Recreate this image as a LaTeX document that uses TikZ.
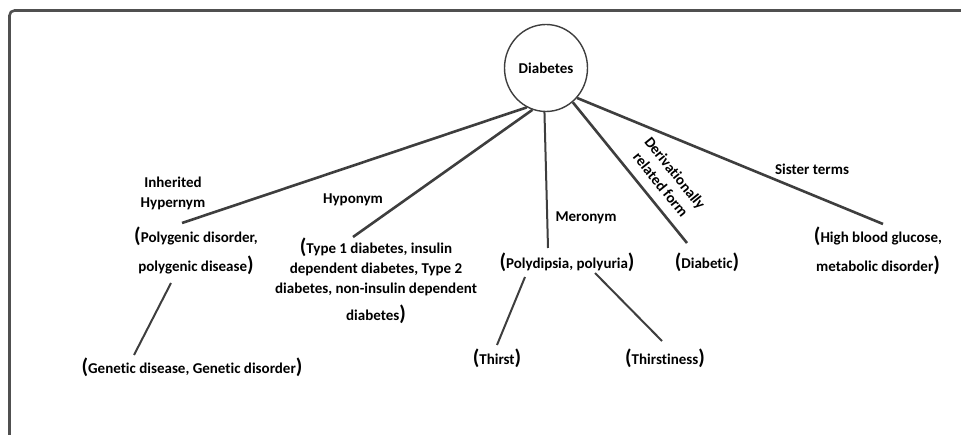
\documentclass[tikz,border=0pt]{standalone}
\usepackage{fontspec}
\setmainfont{Carlito}[Ligatures=NoCommon]
\usetikzlibrary{shapes.geometric,calc}
\definecolor{linegray}{HTML}{3E3E3E}
\definecolor{framegray}{HTML}{505050}
% large parentheses around each group of terms
\newcommand\bigparen[1]{{\fontsize{21}{21}\selectfont #1}}
\begin{document}
\begin{tikzpicture}[x=1pt,y=-1pt,
  every node/.style={font=\fontsize{15}{20}\selectfont\bfseries, inner sep=0pt, text=black},
  term/.style={align=center},
  lbl/.style={align=center},
  rel/.style={draw=linegray, line width=2.6pt},
  thinrel/.style={draw=linegray, line width=2pt},
  frame/.style={draw=framegray, line width=2.6pt, rounded corners=5pt}]
\useasboundingbox (0,0) rectangle (961,435);
\clip (0,0) rectangle (961,435);
% page frame (open to the right and bottom)
\draw[frame] (9.5,450) -- (9.5,10.5) -- (980,10.5);

% root concept
\node[draw=linegray, line width=1.4pt, ellipse, minimum width=83pt, minimum height=87pt] (d) at (546,68) {Diabetes};

% related term groups
\node[term] (hyper) at (196,250.5) {\bigparen(Polygenic disorder,\\[9pt] polygenic disease\bigparen)};
\node[term] (hypo) at (376,281) {\bigparen(Type 1 diabetes, insulin\\[0.5pt] dependent diabetes, Type 2\\ diabetes, non-insulin dependent\\[7pt] diabetes\bigparen)};
\node[term] (mero) at (567,262) {\bigparen(Polydipsia, polyuria\bigparen)};
\node[term] (deriv) at (707,262) {\bigparen(Diabetic\bigparen)};
\node[term] (sister) at (878,250.5) {\bigparen(High blood glucose,\\[9pt] metabolic disorder\bigparen)};
\node[term] (genetic) at (192,367) {\bigparen(Genetic disease, Genetic disorder\bigparen)};
\node[term] (thirst) at (497,358) {\bigparen(Thirst\bigparen)};
\node[term] (thirstiness) at (665,358) {\bigparen(Thirstiness\bigparen)};

% relation labels
\node[lbl] (hyperLbl) at (173,193) {Inherited\\Hypernym};
\node[lbl] (hypoLbl) at (353,200) {Hyponym};
\node[lbl] (meroLbl) at (586,218) {Meronym};
\node[lbl, rotate=-51, font=\fontsize{15}{18.5}\selectfont\bfseries] (derivLbl) at (668,179) {Derivationally\\related form};
\node[lbl] (sisterLbl) at (812,169) {Sister terms};

% relations from the root
\draw[rel] (d.244) -- ($(hyper)+(-14,-27.5)$);
\draw[rel] (d.252) -- ($(hypo)+(-23,-44)$);
\draw[thinrel] (d.268) -- ($(mero)+(-19,-14)$);
\draw[rel] (d.308) -- ($(deriv)+(-20,-19)$);
\draw[rel] (d.316) -- ($(sister)+(5,-26.5)$);

% second level relations
\draw[thinrel] ($(hyper)+(-25,32.5)$) -- ($(genetic)+(-58,-12)$);
\draw[thinrel] ($(mero)+(-42,15)$) -- ($(thirst)+(0,-13)$);
\draw[thinrel] ($(mero)+(28,11)$) -- ($(thirstiness)+(-3,-17)$);
\end{tikzpicture}
\end{document}
